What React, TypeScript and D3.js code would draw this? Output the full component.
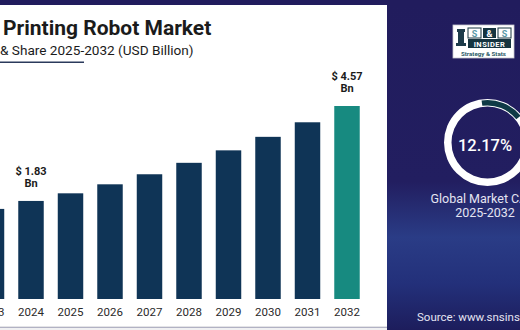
import React from "react";
import * as d3 from "d3";

const years = ["2023", "2024", "2025", "2026", "2027", "2028", "2029", "2030", "2031", "2032"];
const values = [1.6, 1.83, 2.05, 2.31, 2.6, 2.93, 3.29, 3.68, 4.1, 4.57];
const labelled = ["2024", "2032"];
const highlightYear = "2032";
const titleText = "Printing Robot Market";
const subtitleText = "& Share 2025-2032 (USD Billion)";
const cagrText = "12.17%";
const cagrShare = 0.1217;

const W = 520;
const H = 330;

export default function App() {
  const x = d3
    .scaleBand<string>()
    .domain(years)
    .range([-28.25, 366.75])
    .paddingInner(0.355)
    .paddingOuter(0.1775);
  const y = d3.scaleLinear().domain([-1.0, 4.57]).range([299, 106]);

  const ringCx = 487.5;
  const ringCy = 142.5;
  const ring = d3.arc()({ innerRadius: 36, outerRadius: 43.5, startAngle: 0, endAngle: Math.PI * 2 }) as string;
  const start = -0.14;
  const darkArc = d3.arc()({
    innerRadius: 37,
    outerRadius: 42.5,
    startAngle: start,
    endAngle: start + cagrShare * Math.PI * 2 * 1.35,
    cornerRadius: 2,
  }) as string;

  const font = "Roboto, 'Liberation Sans', sans-serif";

  return (
    <svg
      width={W}
      height={H}
      style={{ position: "absolute", left: 0, top: 0, display: "block" }}
      fontFamily={font}
    >
      <defs>
        <linearGradient id="panel" x1="0" y1="0" x2="0" y2="1">
          <stop offset="0%" stopColor="#211c5d" />
          <stop offset="55%" stopColor="#221e60" />
          <stop offset="72%" stopColor="#2a3c86" />
          <stop offset="86%" stopColor="#23307a" />
          <stop offset="100%" stopColor="#1d1d5c" />
        </linearGradient>
      </defs>
      <rect x={0} y={0} width={W} height={H} fill="url(#panel)" />
      <rect x={0} y={0} width={W} height={5} fill="#211c5d" />
      <rect x={0} y={5} width={387} height={322} fill="#ffffff" />
      <rect x={0} y={326.5} width={387} height={1} fill="#c9c9cf" />
      <rect x={0} y={327.5} width={387} height={3} fill="#f0f0f2" />

      {/* title */}
      <text x={3} y={35} fontSize={21} fontWeight={700} fill="#1b1b1b">
        {titleText}
      </text>
      <text x={0} y={55} fontSize={13.6} fill="#1b1b1b">
        {subtitleText}
      </text>
      <rect x={0} y={61.5} width={84} height={1.5} fill="#2b3a5c" />

      {/* bars */}
      {years.map((yr, i) => (
        <rect
          key={yr}
          x={x(yr)}
          y={y(values[i])}
          width={x.bandwidth()}
          height={y.range()[0] - y(values[i])}
          fill={yr === highlightYear ? "#178a80" : "#0f3456"}
        />
      ))}
      {years.map((yr) => (
        <text
          key={"l" + yr}
          x={(x(yr) as number) + x.bandwidth() / 2}
          y={316}
          fontSize={11.5}
          textAnchor="middle"
          fill="#2a2a2a"
        >
          {yr}
        </text>
      ))}
      {years.map((yr, i) =>
        labelled.includes(yr) ? (
          <g key={"v" + yr} fontSize={11} fontWeight={700} fill="#1b1b1b" textAnchor="middle">
            <text x={(x(yr) as number) + x.bandwidth() / 2} y={y(values[i]) - 26}>
              {"$ " + values[i].toFixed(2)}
            </text>
            <text x={(x(yr) as number) + x.bandwidth() / 2} y={y(values[i]) - 14}>
              Bn
            </text>
          </g>
        ) : null
      )}

      {/* logo */}
      <g>
        <rect x={453} y={25} width={61} height={33} fill="#ffffff" stroke="#c8c8d0" strokeWidth={0.8} />
        <g fill="#1d3b4a">
          <rect x={457} y={29} width={8} height={3} />
          <rect x={458} y={32} width={6} height={11} />
          <rect x={456} y={43} width={10} height={3} />
        </g>
        <rect x={468} y={28} width={13} height={10} fill="#ffffff" stroke="#16343f" strokeWidth={1} />
        <rect x={483} y={28} width={13} height={10} fill="#16343f" />
        <rect x={498} y={28} width={13} height={10} fill="#ffffff" stroke="#16343f" strokeWidth={1} />
        <text x={474.5} y={36.5} fontSize={9} fontWeight={700} textAnchor="middle" fill="#5a9aa8">S</text>
        <text x={489.5} y={36.5} fontSize={9} fontWeight={700} textAnchor="middle" fill="#ffffff">&amp;</text>
        <text x={504.5} y={36.5} fontSize={9} fontWeight={700} textAnchor="middle" fill="#5a9aa8">S</text>
        <rect x={468} y={39} width={43} height={9} fill="#16343f" />
        <text x={489.5} y={46.5} fontSize={7.5} fontWeight={700} textAnchor="middle" fill="#ffffff" letterSpacing={0.5}>
          INSIDER
        </text>
        <text x={483.5} y={55.5} fontSize={6.2} fontWeight={700} textAnchor="middle" fill="#2b5b66">
          Strategy &amp; Stats
        </text>
      </g>

      {/* ring */}
      <g transform={`translate(${ringCx},${ringCy})`}>
        <path d={ring} fill="#ffffff" />
        <path d={darkArc} fill="#0f3a46" />
      </g>
      <text x={485} y={151} fontSize={16.5} fontWeight={500} textAnchor="middle" fill="#ffffff">
        {cagrText}
      </text>
      <text x={487} y={203} fontSize={12.5} textAnchor="middle" fill="#e4e4f2">
        Global Market CAGR
      </text>
      <text x={485} y={217} fontSize={12.5} textAnchor="middle" fill="#e4e4f2">
        2025-2032
      </text>
      <text x={417} y={321} fontSize={11.5} fill="#e4e4f2">
        Source: www.snsinsider.com
      </text>
    </svg>
  );
}
